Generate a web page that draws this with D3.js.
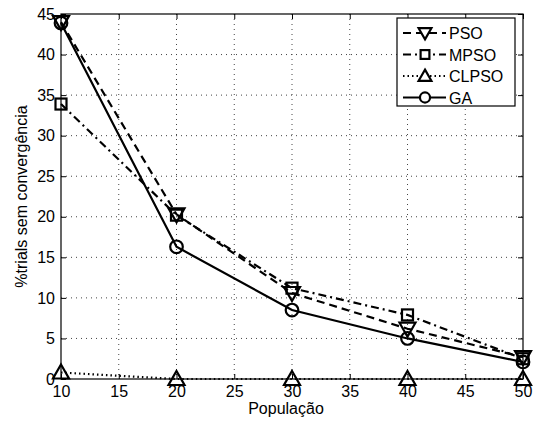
<!DOCTYPE html>
<html>
<head>
<meta charset="utf-8">
<script src="https://cdn.jsdelivr.net/npm/d3@7"></script>
<style>
  body { margin: 0; background: #fff; }
</style>
</head>
<body>
<div id="chart"></div>
<script>
// population sizes on the x axis
const populations = [10, 20, 30, 40, 50];
// % of trials without convergence
const psoVals   = [44.0, 20.3, 10.6, 6.2, 2.7];
const mpsoVals  = [33.9, 20.2, 11.2, 7.9, 2.5];
const clpsoVals = [0.8, 0.0, 0.0, 0.0, 0.0];
const gaVals    = [43.9, 16.3, 8.5, 5.0, 2.1];
const xTicks = [10, 15, 20, 25, 30, 35, 40, 45, 50];
const yTicks = [0, 5, 10, 15, 20, 25, 30, 35, 40, 45];

const series = [
  { label: "PSO",   vals: psoVals,   dash: "8,5",     marker: "tridown" },
  { label: "MPSO",  vals: mpsoVals,  dash: "8,4,2,4", marker: "square" },
  { label: "CLPSO", vals: clpsoVals, dash: "1.5,3",   marker: "triup" },
  { label: "GA",    vals: gaVals,    dash: null,      marker: "circle" }
];

const FONT = "'Liberation Sans', Arial, Helvetica, sans-serif";
const W = 535, H = 426;
const m = { top: 14, right: 12, bottom: 47, left: 61 };

const svg = d3.select("#chart").append("svg")
  .attr("width", W).attr("height", H).attr("font-family", FONT);

const x = d3.scaleLinear().domain([10, 50]).range([m.left, W - m.right]);
const y = d3.scaleLinear().domain([0, 45]).range([H - m.bottom, m.top]);

// dotted grid
svg.append("g").selectAll("line").data(xTicks.slice(1, -1)).join("line")
  .attr("x1", x).attr("x2", x).attr("y1", m.top).attr("y2", H - m.bottom)
  .attr("stroke", "#444").attr("stroke-width", 1).attr("stroke-dasharray", "1,4");
svg.append("g").selectAll("line").data(yTicks.slice(1, -1)).join("line")
  .attr("x1", m.left).attr("x2", W - m.right).attr("y1", y).attr("y2", y)
  .attr("stroke", "#444").attr("stroke-width", 1).attr("stroke-dasharray", "1,4");

// axes with inward ticks on all sides
const gx = svg.append("g").attr("transform", `translate(0,${H - m.bottom})`)
  .call(d3.axisBottom(x).tickValues(xTicks).tickSizeInner(-5).tickSizeOuter(0).tickPadding(7));
const gxTop = svg.append("g").attr("transform", `translate(0,${m.top})`)
  .call(d3.axisTop(x).tickValues(xTicks).tickSizeInner(-5).tickSizeOuter(0).tickFormat(""));
const gy = svg.append("g").attr("transform", `translate(${m.left},0)`)
  .call(d3.axisLeft(y).tickValues(yTicks).tickSizeInner(-5).tickSizeOuter(0).tickPadding(6));
const gyR = svg.append("g").attr("transform", `translate(${W - m.right},0)`)
  .call(d3.axisRight(y).tickValues(yTicks).tickSizeInner(-5).tickSizeOuter(0).tickFormat(""));
[gx, gxTop, gy, gyR].forEach((g) => {
  g.attr("font-family", FONT).attr("font-size", 16);
  g.select(".domain").remove();
  g.selectAll("line").attr("stroke", "#000");
  g.selectAll("text").attr("fill", "#000");
});

// plot box
svg.append("rect").attr("x", m.left).attr("y", m.top)
  .attr("width", W - m.right - m.left).attr("height", H - m.bottom - m.top)
  .attr("fill", "none").attr("stroke", "#000").attr("stroke-width", 1.2);

function drawMarker(g, kind, cx, cy, s) {
  const k = s || 1;
  if (kind === "circle") {
    g.append("circle").attr("cx", cx).attr("cy", cy).attr("r", 6.3 * k);
  } else if (kind === "square") {
    g.append("rect").attr("x", cx - 5.5 * k).attr("y", cy - 5.5 * k).attr("width", 11 * k).attr("height", 11 * k);
  } else if (kind === "triup") {
    g.append("path").attr("d", `M${cx},${cy - 8 * k}L${cx + 8 * k},${cy + 6 * k}L${cx - 8 * k},${cy + 6 * k}Z`);
  } else {
    g.append("path").attr("d", `M${cx},${cy + 8 * k}L${cx + 8 * k},${cy - 6 * k}L${cx - 8 * k},${cy - 6 * k}Z`);
  }
}

const line = d3.line().x((d, i) => x(populations[i])).y((d) => y(d));
series.forEach((s) => {
  svg.append("path").datum(s.vals).attr("d", line)
    .attr("fill", "none").attr("stroke", "#000").attr("stroke-width", 2.2)
    .attr("stroke-dasharray", s.dash);
  const g = svg.append("g").attr("fill", "none").attr("stroke", "#000").attr("stroke-width", 2.2);
  s.vals.forEach((v, i) => drawMarker(g, s.marker, x(populations[i]), y(v)));
});

// legend
const lg = svg.append("g");
lg.append("rect").attr("x", 397).attr("y", 18).attr("width", 118).attr("height", 88)
  .attr("fill", "#fff").attr("stroke", "#000").attr("stroke-width", 1.2);
series.forEach((s, i) => {
  const ly = 33 + i * 21.5;
  lg.append("line").attr("x1", 403).attr("x2", 446).attr("y1", ly).attr("y2", ly)
    .attr("stroke", "#000").attr("stroke-width", 2.2).attr("stroke-dasharray", s.dash);
  const g = lg.append("g").attr("fill", "#fff").attr("stroke", "#000").attr("stroke-width", 2.2);
  drawMarker(g, s.marker, 425, ly, 0.8);
  lg.append("text").attr("x", 449).attr("y", ly + 6).attr("font-size", 16).attr("fill", "#000").text(s.label);
});

// axis labels
svg.append("text").attr("font-size", 16).attr("text-anchor", "middle").attr("fill", "#000")
  .attr("x", (m.left + W - m.right) / 2 - 6).attr("y", H - 12).text("População");
svg.append("text").attr("font-size", 16).attr("text-anchor", "middle").attr("fill", "#000")
  .attr("transform", `translate(27,${(m.top + H - m.bottom) / 2}) rotate(-90)`)
  .text("%trials sem convergência");
</script>
</body>
</html>
